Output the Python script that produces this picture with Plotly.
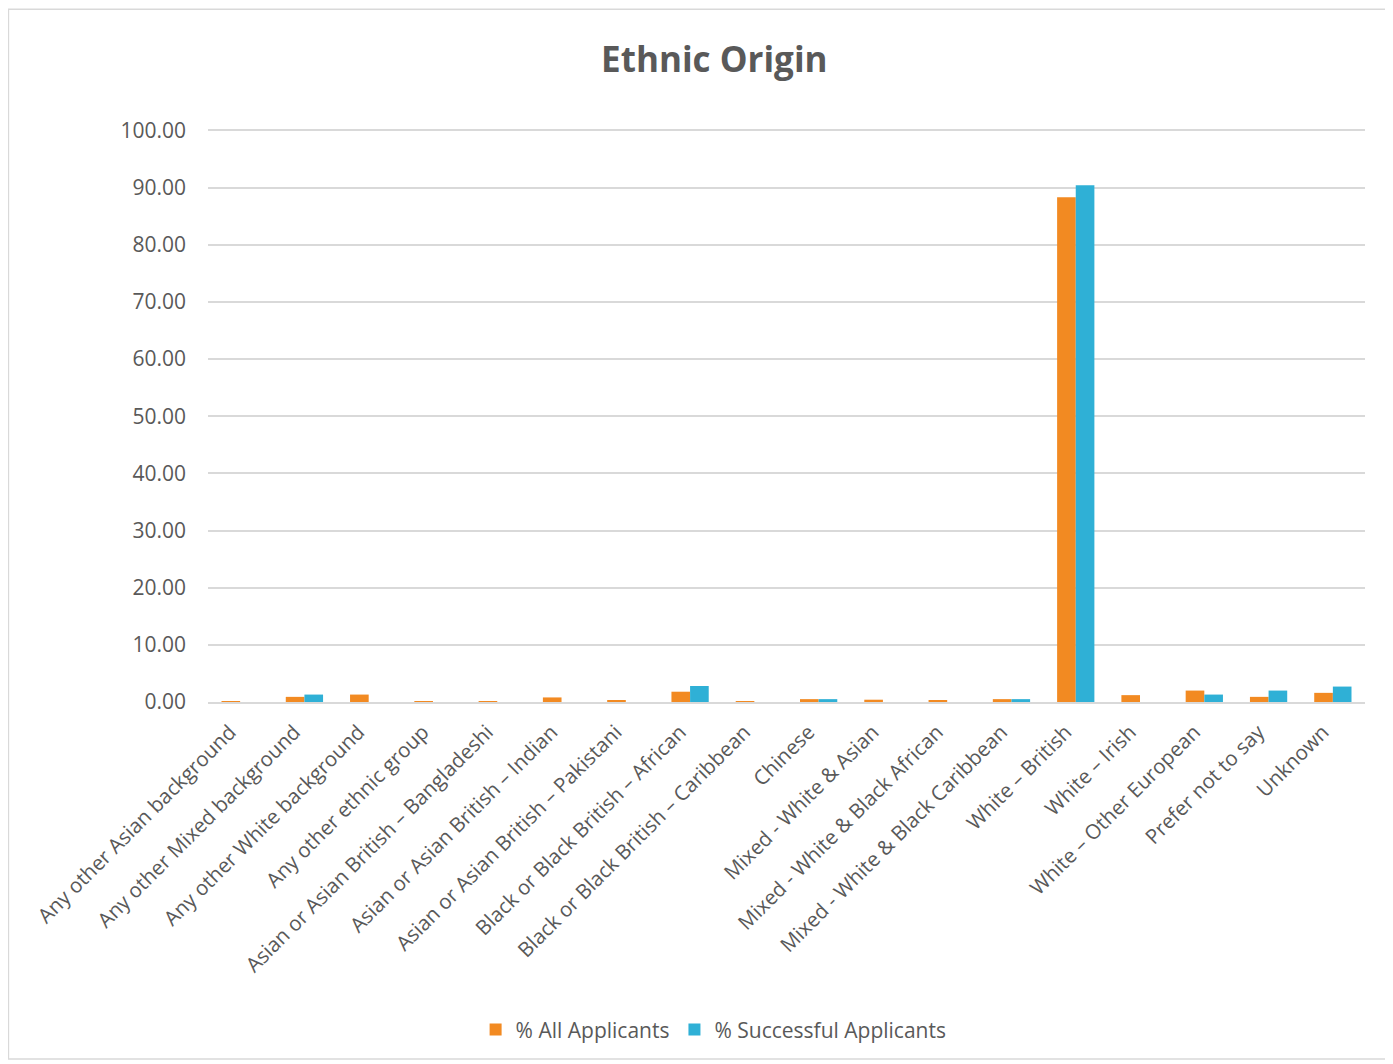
import plotly.graph_objects as go

categories = [
    "Any other Asian background",
    "Any other Mixed background",
    "Any other White background",
    "Any other ethnic group",
    "Asian or Asian British – Bangladeshi",
    "Asian or Asian British – Indian",
    "Asian or Asian British – Pakistani",
    "Black or Black British – African",
    "Black or Black British – Caribbean",
    "Chinese",
    "Mixed - White & Asian",
    "Mixed - White & Black African",
    "Mixed - White & Black Caribbean",
    "White – British",
    "White – Irish",
    "White – Other European",
    "Prefer not to say",
    "Unknown",
]
all_applicants = [0.1, 0.9, 1.3, 0.1, 0.1, 0.8, 0.3, 1.8, 0.1, 0.5, 0.4, 0.2, 0.5, 88.3, 1.2, 2.0, 0.9, 1.6]
successful_applicants = [0.0, 1.3, 0.0, 0.0, 0.0, 0.0, 0.0, 2.8, 0.0, 0.5, 0.0, 0.0, 0.5, 90.4, 0.0, 1.3, 2.0, 2.7]

font_family = "Open Sans, Liberation Sans, sans-serif"
gray = "#595959"

fig = go.Figure()
fig.add_trace(go.Bar(
    x=categories, y=all_applicants, name="% All Applicants",
    marker=dict(color="#F28A22", line=dict(width=0)),
))
fig.add_trace(go.Bar(
    x=categories, y=successful_applicants, name="% Successful Applicants",
    marker=dict(color="#2FB0D6", line=dict(width=0)),
))

fig.update_layout(
    width=1385, height=1056,
    paper_bgcolor="white", plot_bgcolor="white",
    font=dict(family=font_family, color=gray, size=20),
    title=dict(text="<b>Ethnic Origin</b>", x=0.51, xanchor="center", y=0.951, yanchor="middle",
               font=dict(size=35, color=gray, family=font_family)),
    margin=dict(l=200, r=28, t=121, b=362, autoexpand=False),
    barmode="group", bargap=0.42, bargroupgap=0.0,
    legend=dict(orientation="h", x=0.437, xanchor="center", y=-0.572, yanchor="middle",
                font=dict(size=21, color=gray), itemwidth=30,
                traceorder="normal"),
    showlegend=True,
    shapes=[dict(type="rect", xref="paper", yref="paper", x0=-0.1725, x1=1.02, y0=-0.623, y1=1.209,
                 line=dict(color="#D9D9D9", width=1.5), fillcolor="rgba(0,0,0,0)", layer="below")],
)
fig.update_yaxes(range=[0, 100.25], dtick=10, tickformat=".2f", showgrid=True,
                 gridcolor="#D9D9D9", gridwidth=2, zeroline=False, automargin=False,
                 ticks="", tickfont=dict(size=21, color=gray), ticklabelstandoff=21)
fig.update_xaxes(tickangle=-45, showline=True, linecolor="#D9D9D9", linewidth=2, automargin=False,
                 tickfont=dict(size=20.5, color=gray), ticks="",
                 ticklabelshift=-10, ticklabelstandoff=8)

fig.write_html("out.html")
